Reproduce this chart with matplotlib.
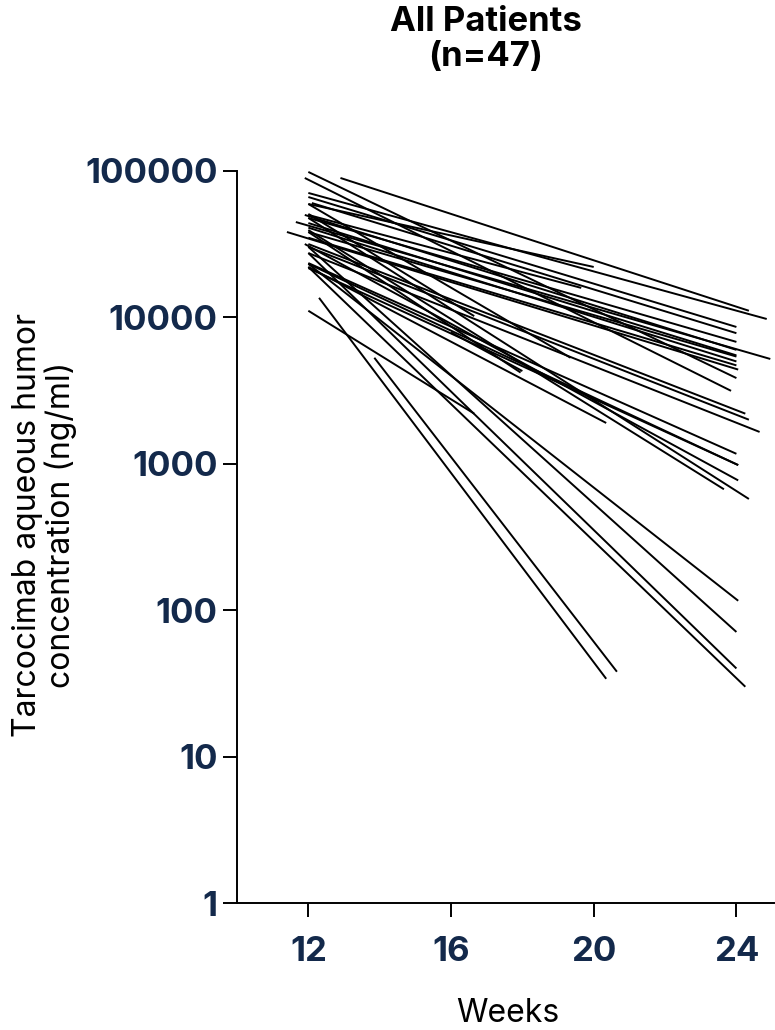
import matplotlib
matplotlib.use("Agg")
import matplotlib.pyplot as plt

NAVY = "#13294b"
FONT = ["Inter", "DejaVu Sans"]

# one segment per eye: (start week, start conc) -> (end week, end conc)
start_week = [12.9, 12.0, 12.0, 12.1, 12.0, 12.0, 11.65, 11.9, 12.0, 12.0,
              11.4, 12.0, 11.9, 12.0, 12.0, 12.0, 12.0, 12.0, 12.0,
              12.0, 12.0, 12.0, 11.9, 12.0, 12.0, 12.0, 12.0, 12.0, 12.0,
              16.0, 12.0,
              12.0, 12.0, 12.0, 12.0, 12.3, 13.85]
start_conc = [89600, 70800, 66400, 60400, 59500, 47800, 44800, 50100, 44100, 38300,
              38300, 98500, 89600, 31700, 30300, 27500, 50100, 41000, 35000,
              23500, 21700, 23200, 31700, 39500, 47800, 59500, 11100, 22100, 38300,
              7900, 50900,
              23200, 30300, 27500, 22100, 13600, 5300]
end_week = [24.35, 24.85, 24.0, 24.0, 20.0, 24.0, 24.95, 24.0, 24.0, 24.0,
            24.05, 24.0, 23.85, 24.25, 24.35, 24.65, 19.65, 24.0, 24.0,
            24.0, 24.05, 24.05, 24.05, 23.65, 24.35, 19.35, 16.65, 20.35, 17.95,
            18.0, 16.65,
            24.05, 24.0, 24.0, 24.25, 20.35, 20.65]
end_conc = [11100, 9750, 8600, 7800, 22100, 6800, 5200, 6000, 5500, 5400,
            4400, 3850, 3150, 2200, 2000, 1650, 15900, 5000, 4700,
            1170, 980, 980, 770, 670, 575, 5300, 2200, 1900, 4200,
            4300, 10200,
            116, 71, 40, 30, 34, 38]

x_ticks = [12, 16, 20, 24]
y_ticks = [1, 10, 100, 1000, 10000, 100000]

fig = plt.figure(figsize=(7.75, 10.3), dpi=100)
ax = fig.add_axes([0.3058, 0.1233, 0.6932, 0.7107])

for x0, y0, x1, y1 in zip(start_week, start_conc, end_week, end_conc):
    ax.plot([x0, x1], [y0, y1], color="black", lw=1.4, solid_capstyle="butt")

ax.set_yscale("log")
ax.set_xlim(10, 25.06)
ax.set_ylim(1, 100000)
ax.set_xticks(x_ticks)
ax.set_yticks(y_ticks)
ax.set_xticklabels([str(t) for t in x_ticks])
ax.set_yticklabels([str(t) for t in y_ticks])
ax.minorticks_off()

for s in ("top", "right"):
    ax.spines[s].set_visible(False)
for s in ("left", "bottom"):
    ax.spines[s].set_linewidth(1.4)

ax.tick_params(axis="both", length=10, width=1.4, direction="out",
               labelsize=25, labelcolor=NAVY)
ax.tick_params(axis="x", pad=14)
ax.tick_params(axis="y", pad=4)
for lab in ax.get_xticklabels() + ax.get_yticklabels():
    lab.set_fontweight("bold")
    lab.set_family(FONT)

fig.text(0.627, 0.994, "All Patients\n(n=47)", ha="center", va="top",
         fontsize=25, fontweight="bold", family=FONT, linespacing=1.1)
fig.text(0.057, 0.49, "Tarcocimab aqueous humor\nconcentration (ng/ml)",
         rotation=90, ha="center", va="center", fontsize=23, family=FONT,
         multialignment="center", linespacing=1.05)
fig.text(0.655, 0.016, "Weeks", ha="center", va="center", fontsize=23, family=FONT)

fig.savefig("out.png", dpi=100)
